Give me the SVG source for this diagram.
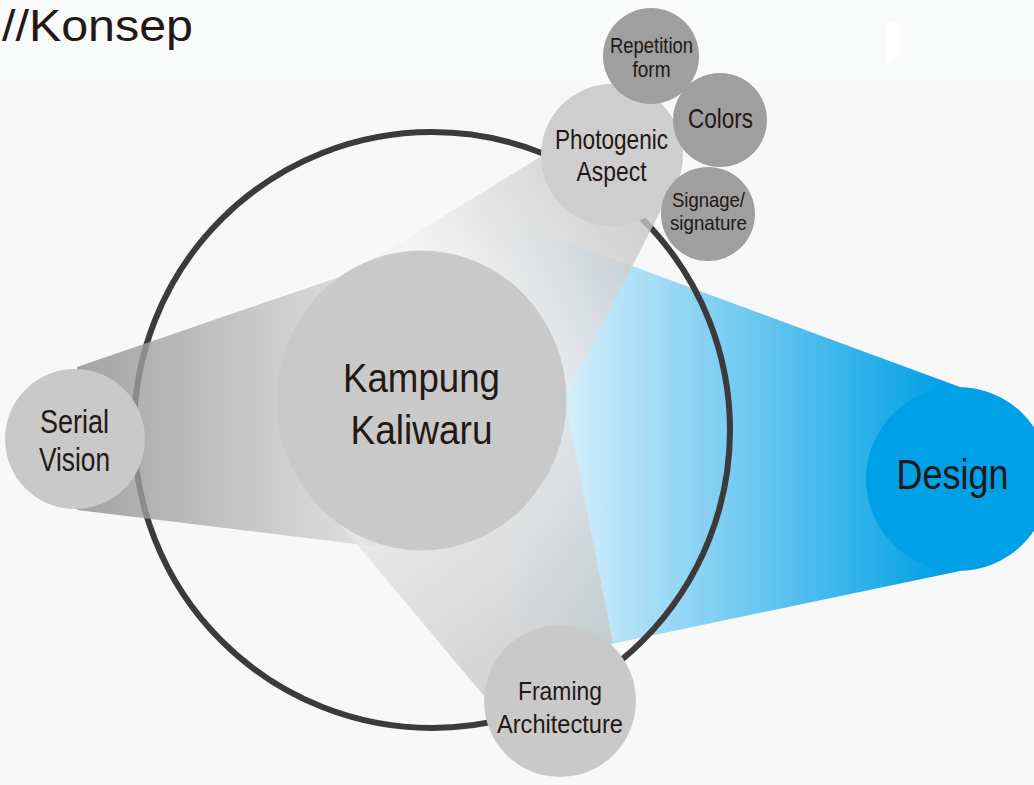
<svg xmlns="http://www.w3.org/2000/svg" width="1034" height="785" viewBox="0 0 1034 785">
  <defs>
    <linearGradient id="gBlue" gradientUnits="userSpaceOnUse" x1="520" y1="0" x2="945" y2="0">
      <stop offset="0" stop-color="#eef8fd"/>
      <stop offset="1" stop-color="#00a0e6"/>
    </linearGradient>
    <linearGradient id="gSerial" gradientUnits="userSpaceOnUse" x1="77" y1="0" x2="421" y2="0">
      <stop offset="0" stop-color="#8e8e8e"/>
      <stop offset="1" stop-color="#e8e8e8"/>
    </linearGradient>
    <linearGradient id="gPhoto" gradientUnits="userSpaceOnUse" x1="612" y1="160" x2="440" y2="280">
      <stop offset="0" stop-color="#c4c4c4"/>
      <stop offset="1" stop-color="#f2f2f2"/>
    </linearGradient>
    <linearGradient id="gFrame" gradientUnits="userSpaceOnUse" x1="380" y1="500" x2="520" y2="690">
      <stop offset="0" stop-color="#e8e8e8"/>
      <stop offset="1" stop-color="#c8c8c8"/>
    </linearGradient>
  </defs>
  <style>
    text { font-family: "Liberation Sans", Arial, sans-serif; fill: #231815; text-anchor: middle; }
    .big { fill: #c9c9c9; }
    .small { fill: #9f9f9f; }
    .beam { opacity: 0.8; }
  </style>

  <rect x="0" y="0" width="1034" height="785" fill="#f8f8f8"/>
  <rect x="0" y="0" width="1034" height="82" fill="#f9fafa"/>
  <polygon points="887,23 900,23 900,54 887,62" fill="#ffffff"/>

  <text id="title" x="2" y="41" font-size="45" textLength="191" lengthAdjust="spacingAndGlyphs" style="text-anchor:start">//Konsep</text>

  <g id="connectors">
    <polygon id="beam-design" points="505,219 960,387 960,571 497,668" fill="url(#gBlue)"/>
    <circle id="ring" cx="432" cy="430" r="298" fill="none" stroke="#3e3a39" stroke-width="6"/>
    <polygon id="beam-serial" class="beam" points="77,367 421,249 421,552 77,510" fill="url(#gSerial)"/>
    <polygon id="beam-photogenic" class="beam" points="540,157 676,181 548,430 421,400 335,283" fill="url(#gPhoto)"/>
    <polygon id="beam-framing" class="beam" points="324,505 565,400 613,643 484,696" fill="url(#gFrame)"/>
  </g>

  <g id="node-kampung">
    <ellipse class="big" cx="421.5" cy="400.5" rx="145" ry="150"/>
    <text x="421.5" y="392" font-size="40" textLength="157" lengthAdjust="spacingAndGlyphs">Kampung</text>
    <text x="421.5" y="444" font-size="40" textLength="142" lengthAdjust="spacingAndGlyphs">Kaliwaru</text>
  </g>

  <g id="node-serial">
    <circle class="big" cx="75" cy="439" r="70"/>
    <text x="74.5" y="433" font-size="34" textLength="69" lengthAdjust="spacingAndGlyphs">Serial</text>
    <text x="74.5" y="471" font-size="34" textLength="71" lengthAdjust="spacingAndGlyphs">Vision</text>
  </g>

  <g id="node-photogenic">
    <circle cx="612" cy="155" r="71" fill="#cecece"/>
    <text x="611.5" y="149" font-size="28" textLength="113" lengthAdjust="spacingAndGlyphs">Photogenic</text>
    <text x="611.5" y="181" font-size="28" textLength="70" lengthAdjust="spacingAndGlyphs">Aspect</text>
  </g>

  <g id="node-repetition">
    <circle class="small" cx="651" cy="56" r="48"/>
    <text x="651.5" y="53" font-size="22" textLength="83" lengthAdjust="spacingAndGlyphs">Repetition</text>
    <text x="651.5" y="77" font-size="22" textLength="38" lengthAdjust="spacingAndGlyphs">form</text>
  </g>

  <g id="node-colors">
    <circle class="small" cx="720" cy="120" r="47"/>
    <text x="720.5" y="128" font-size="28" textLength="65" lengthAdjust="spacingAndGlyphs">Colors</text>
  </g>

  <g id="node-signage">
    <circle class="small" cx="708" cy="214" r="47"/>
    <text x="708.5" y="207" font-size="21" textLength="73" lengthAdjust="spacingAndGlyphs">Signage/</text>
    <text x="708.5" y="230" font-size="21" textLength="77" lengthAdjust="spacingAndGlyphs">signature</text>
  </g>

  <g id="node-framing">
    <circle class="big" cx="560" cy="701" r="76"/>
    <text x="560" y="700" font-size="26" textLength="84" lengthAdjust="spacingAndGlyphs">Framing</text>
    <text x="560" y="733" font-size="26" textLength="126" lengthAdjust="spacingAndGlyphs">Architecture</text>
  </g>

  <g id="node-design">
    <circle cx="958" cy="479" r="92" fill="#00a0e6"/>
    <text x="952.5" y="489" font-size="42" textLength="112" lengthAdjust="spacingAndGlyphs">Design</text>
  </g>
</svg>
